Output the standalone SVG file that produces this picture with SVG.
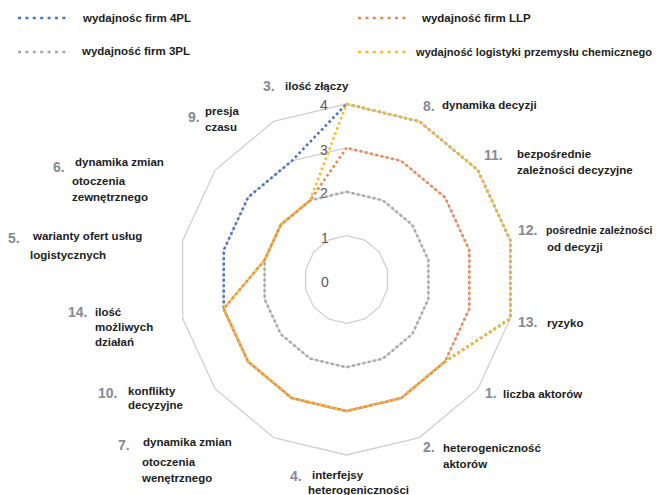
<svg xmlns="http://www.w3.org/2000/svg" width="656" height="495" viewBox="0 0 656 495">
<style>
.grid{fill:none;stroke:#d0d0d0;stroke-width:1.3}
.ser{fill:none;stroke-width:2.6;stroke-dasharray:2.6 2.8;stroke-linejoin:round}
.leg{fill:none;stroke-width:2.6;stroke-dasharray:3 4.4}
.s4{stroke:#4a72c0}
.sllp{stroke:#eb8552}
.s3{stroke:#a8a8a8}
.sch{stroke:#f7bd2a}
.lt{font-family:"Liberation Sans",Arial,sans-serif;font-weight:bold;font-size:11.5px;fill:#1c1c1c}
.num{font-family:"Liberation Sans",Arial,sans-serif;font-weight:bold;font-size:14px;fill:#858a94}
.ax{font-family:"Liberation Sans",Arial,sans-serif;font-size:14px;fill:#595959;text-anchor:middle}
</style>
<rect width="656" height="495" fill="#ffffff"/>
<g id="legend">
<line class="leg s4" x1="18" y1="18" x2="70" y2="18"/>
<text class="lt" x="83" y="22">wydajnośc firm 4PL</text>
<line class="leg s3" x1="18" y1="52" x2="70" y2="52"/>
<text class="lt" x="82" y="55">wydajność firm 3PL</text>
<line class="leg sllp" x1="358" y1="18" x2="410" y2="18"/>
<text class="lt" x="422" y="22">wydajność firm LLP</text>
<line class="leg sch" x1="358" y1="52" x2="410" y2="52"/>
<text class="lt" x="416" y="56" style="font-size:11.1px">wydajność logistyki przemysłu chemicznego</text>
</g>
<g id="grid">
<polygon class="grid" points="346.5,235.6 364.7,240 379.3,252.1 387.4,269.7 387.4,289.3 379.3,306.9 364.7,319 346.5,323.4 328.3,319 313.7,306.9 305.6,289.3 305.6,269.7 313.7,252.1 328.3,240"/>
<polygon class="grid" points="346.5,191.75 382.9,200.4 412.2,224.8 428.4,260 428.4,299 412.2,334.2 382.9,358.6 346.5,367.25 310.1,358.6 280.8,334.2 264.6,299 264.6,260 280.8,224.8 310.1,200.4"/>
<polygon class="grid" points="346.5,147.9 401.2,160.9 445,197.4 469.3,250.2 469.3,308.8 445,361.6 401.2,398.1 346.5,411.1 291.8,398.1 248,361.6 223.7,308.8 223.7,250.2 248,197.4 291.8,160.9"/>
<polygon class="grid" points="346.5,104 419.4,121.4 477.8,170.1 510.3,240.4 510.3,318.6 477.8,388.9 419.4,437.6 346.5,455 273.6,437.6 215.2,388.9 182.7,318.6 182.7,240.4 215.2,170.1 273.6,121.4"/>
</g>
<g id="axis-values">
<text class="ax" x="325" y="287">0</text>
<text class="ax" x="325" y="243">1</text>
<text class="ax" x="324" y="198">2</text>
<text class="ax" x="324" y="155">3</text>
<text class="ax" x="324" y="110">4</text>
</g>
<g id="series">
<polygon id="series-3pl" class="ser s3" points="346.5,191.75 382.9,200.4 412.2,224.8 428.4,260 428.4,299 412.2,334.2 382.9,358.6 346.5,367.25 310.1,358.6 280.8,334.2 264.6,299 264.6,260 280.8,224.8 310.1,200.4"/>
<polygon id="series-4pl" class="ser s4" points="346.5,104 419.4,121.4 477.8,170.1 510.3,240.4 510.3,318.6 445,361.6 401.2,398.1 346.5,411.1 291.8,398.1 248,361.6 223.7,308.8 223.7,250.2 248,197.4 291.8,160.9"/>
<polygon id="series-llp" class="ser sllp" points="346.5,147.9 401.2,160.9 445,197.4 469.3,250.2 469.3,308.8 445,361.6 401.2,398.1 346.5,411.1 291.8,398.1 248,361.6 223.7,308.8 264.6,260 280.8,224.8 310.1,200.4" stroke-dashoffset="2.7"/>
<polygon id="series-chem" class="ser sch" points="346.5,104 419.4,121.4 477.8,170.1 510.3,240.4 510.3,318.6 445,361.6 401.2,398.1 346.5,411.1 291.8,398.1 248,361.6 223.7,308.8 264.6,260 280.8,224.8 310.1,200.4"/>
</g>
<g id="labels">
<g id="cat-3"><text class="num" x="263" y="91">3.</text><text class="lt" x="285" y="90">ilość złączy</text></g>
<g id="cat-8"><text class="num" x="423" y="111">8.</text><text class="lt" x="442" y="109">dynamika decyzji</text></g>
<g id="cat-11"><text class="num" x="484" y="160">11.</text><text class="lt" x="517" y="158">bezpośrednie</text><text class="lt" x="517" y="174">zależności decyzyjne</text></g>
<g id="cat-12"><text class="num" x="518" y="235">12.</text><text class="lt" x="546" y="234" style="font-size:10.6px">pośrednie zależności</text><text class="lt" x="547" y="251">od decyzji</text></g>
<g id="cat-13"><text class="num" x="518" y="327">13.</text><text class="lt" x="547" y="327">ryzyko</text></g>
<g id="cat-1"><text class="num" x="485" y="398">1.</text><text class="lt" x="503" y="398">liczba aktorów</text></g>
<g id="cat-2"><text class="num" x="423" y="452">2.</text><text class="lt" x="443" y="452">heterogeniczność</text><text class="lt" x="443" y="468">aktorów</text></g>
<g id="cat-4"><text class="num" x="290" y="481">4.</text><text class="lt" x="312" y="479">interfejsy</text><text class="lt" x="308" y="494">heterogeniczności</text></g>
<g id="cat-7"><text class="num" x="118" y="450">7.</text><text class="lt" x="143" y="446">dynamika zmian</text><text class="lt" x="142" y="466">otoczenia</text><text class="lt" x="142" y="482">wenętrznego</text></g>
<g id="cat-10"><text class="num" x="98" y="398">10.</text><text class="lt" x="128" y="395">konflikty</text><text class="lt" x="128" y="409">decyzyjne</text></g>
<g id="cat-14"><text class="num" x="68" y="317">14.</text><text class="lt" x="95" y="316">ilość</text><text class="lt" x="95" y="331">możliwych</text><text class="lt" x="95" y="346">działań</text></g>
<g id="cat-5"><text class="num" x="8" y="243">5.</text><text class="lt" x="33" y="240">warianty ofert usług</text><text class="lt" x="30" y="259">logistycznych</text></g>
<g id="cat-6"><text class="num" x="53" y="172">6.</text><text class="lt" x="75" y="166">dynamika zmian</text><text class="lt" x="72" y="185">otoczenia</text><text class="lt" x="72" y="201">zewnętrznego</text></g>
<g id="cat-9"><text class="num" x="188" y="122">9.</text><text class="lt" x="205" y="115">presja</text><text class="lt" x="205" y="131">czasu</text></g>
</g>
</svg>
